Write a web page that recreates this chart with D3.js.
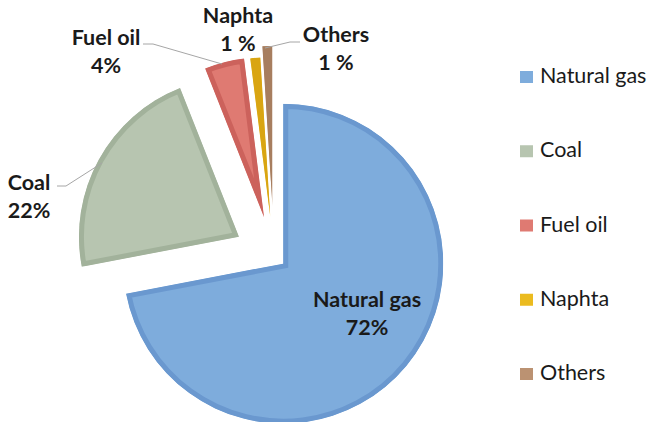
<!DOCTYPE html>
<html>
<head>
<meta charset="utf-8">
<script src="https://cdn.jsdelivr.net/npm/d3@7"></script>
<style>
  html, body { margin: 0; padding: 0; background: #fff; }
  svg { display: block; }
  .lbl { font-family: Lato, "Open Sans", sans-serif; font-weight: 700; fill: #1a1a1a; }
  .leg { font-family: Lato, "Open Sans", sans-serif; fill: #1a1a1a; }
</style>
</head>
<body>
<svg id="chart" width="648" height="422"></svg>
<script>
// Fuel mix shares (%)
const categories = ["Natural gas", "Coal", "Fuel oil", "Naphta", "Others"];
const shares = [72, 22, 4, 1, 1];
const pctSeparators = ["", "", "", " ", " "];

// Appearance
const fillColors   = ["#7eacdc", "#b7c5b0", "#df7a72", "#ebbb1f", "#bb9272"];
const borderColors = ["#6a98cf", "#a2b29b", "#cc625c", "#d9a512", "#a77e5f"];
const explodeBy    = [12, 40, 40, 39, 50];   // px pulled out along each slice's mid-angle
const labelPos = [                            // [x, y of first line, anchor]
  [367, 307, "middle"],
  [29, 190, "middle"],
  [106, 45, "middle"],
  [238, 23, "middle"],
  [336, 42, "middle"]
];
const leaders = [
  null,
  [[57, 186], [66, 186], [102, 163]],
  [[143, 44], [153, 44], [222, 64]],
  null,
  [[300, 42], [290, 42], [265, 48]]
];

const svg = d3.select("#chart");
const cx = 274, cy = 256, R = 160;

const pie = d3.pie().sort(null).value(d => d).startAngle(0).endAngle(2 * Math.PI);
const arcs = pie(shares);
const arcGen = d3.arc().innerRadius(0).outerRadius(R);

const defs = svg.append("defs");
const slices = svg.append("g").attr("transform", `translate(${cx},${cy})`);

arcs.forEach((a, i) => {
  const mid = (a.startAngle + a.endAngle) / 2;
  const dx = Math.sin(mid) * explodeBy[i];
  const dy = -Math.cos(mid) * explodeBy[i];
  const d = arcGen(a);
  defs.append("clipPath").attr("id", "clip" + i).append("path").attr("d", d);
  const g = slices.append("g").attr("transform", `translate(${dx},${dy})`);
  // light body with a darker inner rim
  g.append("path")
    .attr("d", d)
    .attr("fill", fillColors[i])
    .attr("stroke", borderColors[i])
    .attr("stroke-width", 10)
    .attr("stroke-linejoin", "miter")
    .attr("clip-path", `url(#clip${i})`);
});

// leader lines
const line = d3.line();
leaders.forEach(pts => {
  if (!pts) return;
  svg.append("path").attr("d", line(pts))
    .attr("fill", "none").attr("stroke", "#a6a6a6").attr("stroke-width", 1);
});

// data labels
categories.forEach((c, i) => {
  const [x, y, anchor] = labelPos[i];
  const t = svg.append("text").attr("class", "lbl")
    .attr("x", x).attr("y", y).attr("text-anchor", anchor)
    .style("font-size", "21.5px");
  t.append("tspan").attr("x", x).text(c);
  t.append("tspan").attr("x", x).attr("dy", 28).text(shares[i] + pctSeparators[i] + "%");
});

// legend
const legY = d3.scalePoint().domain(categories).range([83, 380]);
const leg = svg.append("g");
categories.forEach((c, i) => {
  const y = legY(c);
  leg.append("rect").attr("x", 520).attr("y", y - 12).attr("width", 13).attr("height", 12)
    .attr("fill", fillColors[i]);
  leg.append("text").attr("class", "leg").attr("x", 540).attr("y", y)
    .style("font-size", "21.5px").text(c);
});
</script>
</body>
</html>
